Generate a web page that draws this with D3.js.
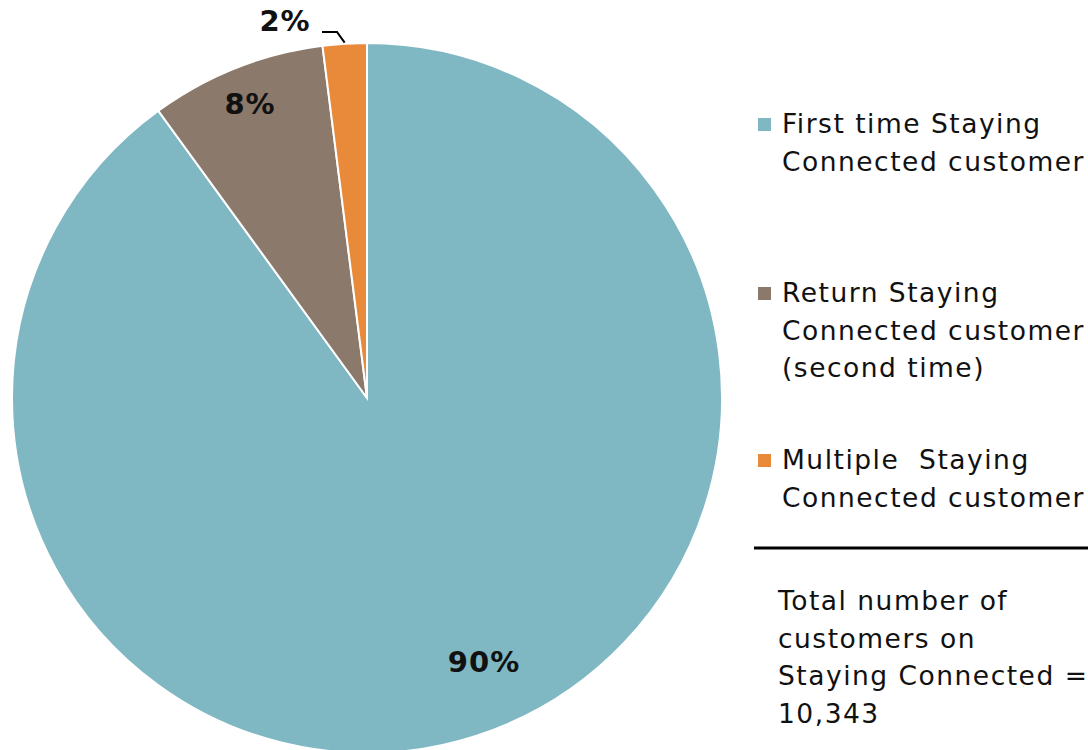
<!DOCTYPE html>
<html><head><meta charset="utf-8">
<script src="https://cdn.jsdelivr.net/npm/d3@7"></script>
<style>html,body{margin:0;padding:0;background:#fff;overflow:hidden;}</style>
</head><body>
<svg id="chart" width="1088" height="750"></svg>
<script>
const categories = ["First time Staying Connected customer", "Return Staying Connected customer (second time)", "Multiple Staying Connected customer"];
const legendLines = [["First time Staying", "Connected customer"], ["Return Staying", "Connected customer", "(second time)"], ["Multiple  Staying", "Connected customer"]];
const values = [90, 8, 2];
const colors = ["#7FB8C2", "#8B7A6B", "#E98A3A"];
const noteLines = ["Total number of", "customers on", "Staying Connected =", "10,343"];

const svg = d3.select("#chart");
const cx = 367, cy = 398, r = 355;
const g = svg.append("g").attr("transform", `translate(${cx},${cy})`);
const pie = d3.pie().sort(null).value(d => d);
const arcs = pie(values);
const arc = d3.arc().innerRadius(0).outerRadius(r);
g.selectAll("path.slice").data(arcs).enter().append("path")
  .attr("d", arc).attr("fill", (d, i) => colors[i])
  .attr("stroke", "#fff").attr("stroke-width", 2);

// labels
const labelPos = [[117, 266], [-117, -292], [-82, -375]];
g.selectAll("text.lbl").data(arcs).enter().append("text")
  .attr("x", (d, i) => labelPos[i][0]).attr("y", (d, i) => labelPos[i][1])
  .attr("text-anchor", "middle").attr("dominant-baseline", "middle")
  .attr("font-family", "DejaVu Sans").attr("font-weight", "bold")
  .attr("font-size", 29).attr("letter-spacing", 1).attr("fill", "#111")
  .text(d => d.data + "%");
// leader line for small slice
const a2 = arcs[2];
const mid = (a2.startAngle + a2.endAngle) / 2;
const ex = Math.sin(mid) * (r + 1), ey = -Math.cos(mid) * (r + 1);
g.append("polyline")
  .attr("points", `${-45},${-366} ${-30},${-366} ${ex},${ey}`)
  .attr("fill", "none").attr("stroke", "#000").attr("stroke-width", 2);

// legend
const lg = svg.append("g");
const groupY = [133, 302, 469];
legendLines.forEach((lines, i) => {
  lg.append("rect").attr("x", 758).attr("y", groupY[i] - 15).attr("width", 13).attr("height", 13).attr("fill", colors[i]);
  lines.forEach((t, j) => {
    lg.append("text").attr("x", 782).attr("y", groupY[i] + j * 37.5)
      .attr("font-family", "DejaVu Sans").attr("font-size", 26.5).attr("letter-spacing", 1.5).attr("fill", "#111")
      .style("white-space", "pre")
      .text(t);
  });
});
svg.append("line").attr("x1", 754).attr("x2", 1088).attr("y1", 548).attr("y2", 548)
  .attr("stroke", "#000").attr("stroke-width", 3);
noteLines.forEach((t, j) => {
  svg.append("text").attr("x", 778).attr("y", 610 + j * 37.5)
    .attr("font-family", "DejaVu Sans").attr("font-size", 26.5).attr("letter-spacing", 1.5).attr("fill", "#111")
    .style("white-space", "pre").text(t);
});
</script>
</body></html>
